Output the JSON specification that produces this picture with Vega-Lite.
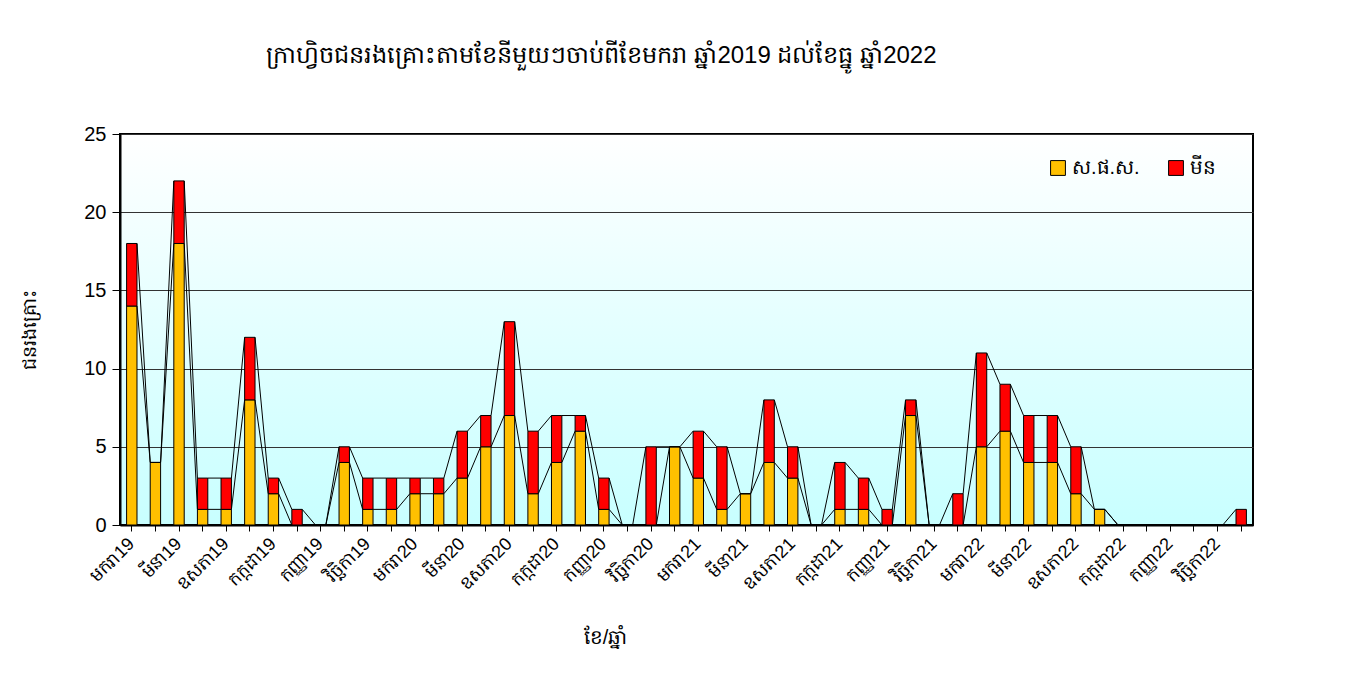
{
  "$schema": "https://vega.github.io/schema/vega-lite/v6.json",
  "autosize": "none",
  "width": 1133,
  "height": 391,
  "padding": {"left": 120, "top": 134, "right": 98, "bottom": 150},
  "background": "white",
  "title": {
    "text": "ក្រាហ្វិចជនរងគ្រោះតាមខែនីមួយៗចាប់ពីខែមករា ឆ្នាំ2019 ដល់ខែធ្នូ ឆ្នាំ2022",
    "anchor": "start",
    "dx": 245,
    "offset": 56,
    "fontSize": 24,
    "fontWeight": "normal",
    "font": "Liberation Sans",
    "color": "black"
  },
  "data": {
    "values": [
      {"n": 1, "month": "មករា19", "a": 14, "b": 4},
      {"n": 2, "month": "កុម្ភៈ19", "a": 4, "b": 0},
      {"n": 3, "month": "មីនា19", "a": 18, "b": 4},
      {"n": 4, "month": "មេសា19", "a": 1, "b": 2},
      {"n": 5, "month": "ឧសភា19", "a": 1, "b": 2},
      {"n": 6, "month": "មិថុនា19", "a": 8, "b": 4},
      {"n": 7, "month": "កក្កដា19", "a": 2, "b": 1},
      {"n": 8, "month": "សីហា19", "a": 0, "b": 1},
      {"n": 9, "month": "កញ្ញា19", "a": 0, "b": 0},
      {"n": 10, "month": "តុលា19", "a": 4, "b": 1},
      {"n": 11, "month": "វិច្ឆិកា19", "a": 1, "b": 2},
      {"n": 12, "month": "ធ្នូ19", "a": 1, "b": 2},
      {"n": 13, "month": "មករា20", "a": 2, "b": 1},
      {"n": 14, "month": "កុម្ភៈ20", "a": 2, "b": 1},
      {"n": 15, "month": "មីនា20", "a": 3, "b": 3},
      {"n": 16, "month": "មេសា20", "a": 5, "b": 2},
      {"n": 17, "month": "ឧសភា20", "a": 7, "b": 6},
      {"n": 18, "month": "មិថុនា20", "a": 2, "b": 4},
      {"n": 19, "month": "កក្កដា20", "a": 4, "b": 3},
      {"n": 20, "month": "សីហា20", "a": 6, "b": 1},
      {"n": 21, "month": "កញ្ញា20", "a": 1, "b": 2},
      {"n": 22, "month": "តុលា20", "a": 0, "b": 0},
      {"n": 23, "month": "វិច្ឆិកា20", "a": 0, "b": 5},
      {"n": 24, "month": "ធ្នូ20", "a": 5, "b": 0},
      {"n": 25, "month": "មករា21", "a": 3, "b": 3},
      {"n": 26, "month": "កុម្ភៈ21", "a": 1, "b": 4},
      {"n": 27, "month": "មីនា21", "a": 2, "b": 0},
      {"n": 28, "month": "មេសា21", "a": 4, "b": 4},
      {"n": 29, "month": "ឧសភា21", "a": 3, "b": 2},
      {"n": 30, "month": "មិថុនា21", "a": 0, "b": 0},
      {"n": 31, "month": "កក្កដា21", "a": 1, "b": 3},
      {"n": 32, "month": "សីហា21", "a": 1, "b": 2},
      {"n": 33, "month": "កញ្ញា21", "a": 0, "b": 1},
      {"n": 34, "month": "តុលា21", "a": 7, "b": 1},
      {"n": 35, "month": "វិច្ឆិកា21", "a": 0, "b": 0},
      {"n": 36, "month": "ធ្នូ21", "a": 0, "b": 2},
      {"n": 37, "month": "មករា22", "a": 5, "b": 6},
      {"n": 38, "month": "កុម្ភៈ22", "a": 6, "b": 3},
      {"n": 39, "month": "មីនា22", "a": 4, "b": 3},
      {"n": 40, "month": "មេសា22", "a": 4, "b": 3},
      {"n": 41, "month": "ឧសភា22", "a": 2, "b": 3},
      {"n": 42, "month": "មិថុនា22", "a": 1, "b": 0},
      {"n": 43, "month": "កក្កដា22", "a": 0, "b": 0},
      {"n": 44, "month": "សីហា22", "a": 0, "b": 0},
      {"n": 45, "month": "កញ្ញា22", "a": 0, "b": 0},
      {"n": 46, "month": "តុលា22", "a": 0, "b": 0},
      {"n": 47, "month": "វិច្ឆិកា22", "a": 0, "b": 0},
      {"n": 48, "month": "ធ្នូ22", "a": 0, "b": 1}
    ]
  },
  "transform": [
    {"fold": ["a", "b"], "as": ["s", "v"]},
    {"stack": "v", "groupby": ["n"], "sort": [{"field": "s", "order": "ascending"}], "as": ["v0", "v1"]}
  ],
  "encoding": {
    "x": {
      "field": "month",
      "type": "ordinal",
      "scale": {
        "domain": ["មករា19","កុម្ភៈ19","មីនា19","មេសា19","ឧសភា19","មិថុនា19","កក្កដា19","សីហា19","កញ្ញា19","តុលា19","វិច្ឆិកា19","ធ្នូ19","មករា20","កុម្ភៈ20","មីនា20","មេសា20","ឧសភា20","មិថុនា20","កក្កដា20","សីហា20","កញ្ញា20","តុលា20","វិច្ឆិកា20","ធ្នូ20","មករា21","កុម្ភៈ21","មីនា21","មេសា21","ឧសភា21","មិថុនា21","កក្កដា21","សីហា21","កញ្ញា21","តុលា21","វិច្ឆិកា21","ធ្នូ21","មករា22","កុម្ភៈ22","មីនា22","មេសា22","ឧសភា22","មិថុនា22","កក្កដា22","សីហា22","កញ្ញា22","តុលា22","វិច្ឆិកា22","ធ្នូ22"],
        "paddingInner": 0.56,
        "paddingOuter": 0.28
      },
      "axis": {
        "title": "ខែ/ឆ្នាំ",
        "titleFont": "Liberation Sans",
        "titleFontSize": 20,
        "titleFontWeight": "normal",
        "titleColor": "black",
        "titleX": 485,
        "titleY": 102,
        "labelAngle": -45,
        "labelAlign": "right",
        "labelBaseline": "middle",
        "labelFont": "Liberation Sans",
        "labelFontSize": 18,
        "labelColor": "black",
        "labelPadding": 10,
        "labelExpr": "test(/^(មករា|មីនា|ឧសភា|កក្កដា|កញ្ញា|វិច្ឆិកា)/, datum.value) ? datum.value : ''",
        "labelOverlap": false,
        "domainColor": "black",
        "domainWidth": 2,
        "tickColor": "black",
        "tickSize": 6,
        "grid": false
      }
    },
    "y": {
      "field": "v1",
      "type": "quantitative",
      "scale": {"domain": [0, 25], "nice": false},
      "axis": {
        "title": "ជនរងគ្រោះ",
        "titleFont": "Liberation Sans",
        "titleFontSize": 19,
        "titleFontWeight": "normal",
        "titleColor": "black",
        "titlePadding": 44,
        "values": [0, 5, 10, 15, 20, 25],
        "labelFont": "Liberation Sans",
        "labelFontSize": 20,
        "labelColor": "black",
        "labelPadding": 6,
        "domainColor": "black",
        "domainWidth": 2,
        "tickColor": "black",
        "tickSize": 8,
        "grid": true,
        "gridColor": "#333333",
        "gridWidth": 1
      }
    }
  },
  "layer": [
    {
      "mark": {"type": "bar", "stroke": "black", "strokeWidth": 1},
      "encoding": {
        "y": {"field": "v1", "type": "quantitative"},
        "y2": {"field": "v0"},
        "color": {
          "field": "s",
          "type": "nominal",
          "scale": {"domain": ["a", "b"], "range": ["#FFC000", "#FF0000"]},
          "legend": {
            "title": null,
            "orient": "none",
            "legendX": 928,
            "legendY": 24,
            "direction": "horizontal",
            "symbolType": "square",
            "symbolSize": 220,
            "symbolStrokeColor": "black",
            "symbolStrokeWidth": 1,
            "labelFont": "Liberation Sans",
            "labelFontSize": 20,
            "labelColor": "black",
            "columnPadding": 26,
            "labelExpr": "datum.value == 'a' ? 'ស.ផ.ស.' : 'មីន'"
          }
        }
      }
    },
    {
      "transform": [
        {"window": [{"op": "lead", "field": "v1", "as": "v1n"}, {"op": "lead", "field": "month", "as": "mn"}], "groupby": ["s"], "sort": [{"field": "n", "order": "ascending"}]},
        {"filter": "datum.mn != null"}
      ],
      "mark": {"type": "rule", "color": "black", "strokeWidth": 1},
      "encoding": {
        "x": {"field": "month", "type": "ordinal", "bandPosition": 1},
        "x2": {"field": "mn", "bandPosition": 0},
        "y": {"field": "v1", "type": "quantitative"},
        "y2": {"field": "v1n"}
      }
    }
  ],
  "config": {
    "view": {
      "stroke": "black",
      "strokeWidth": 2,
      "fill": {
        "gradient": "linear",
        "x1": 0, "y1": 0, "x2": 0, "y2": 1,
        "stops": [{"offset": 0, "color": "#ffffff"}, {"offset": 1, "color": "#c8ffff"}]
      }
    }
  }
}
